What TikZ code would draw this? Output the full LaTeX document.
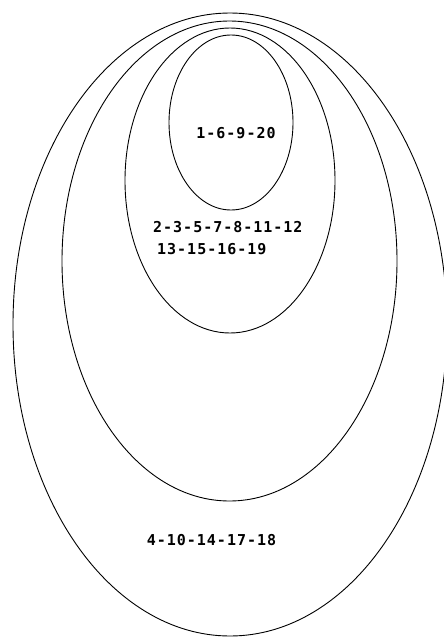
\documentclass[tikz,border=0pt]{standalone}
\usepackage{fontspec}
\newfontfamily\labfont[LetterSpace=6.6]{DejaVu Sans Mono Bold}
\begin{document}
\begin{tikzpicture}[x=1pt,y=-1pt,
  ring/.style={draw=black,line width=0.9pt},
  lab/.style={inner sep=0pt,font=\labfont\fontsize{15}{18}\selectfont,text=black}]
\useasboundingbox (0,0) rectangle (444,637);
\draw[ring] (230,324.5) ellipse [x radius=217, y radius=311.5];
\draw[ring] (229.5,261) ellipse [x radius=167.5, y radius=240];
\draw[ring] (230,180.5) ellipse [x radius=105, y radius=152.5];
\draw[ring] (231,122.5) ellipse [x radius=62, y radius=87.5];
\node[lab] (s1) at (236,133) {1-6-9-20};
\node[lab,anchor=west] (s2a) at (153,227) {2-3-5-7-8-11-12};
\node[lab,anchor=west] (s2b) at (157,249) {13-15-16-19};
\node[lab] (s3) at (211.5,540) {4-10-14-17-18};
\end{tikzpicture}
\end{document}
